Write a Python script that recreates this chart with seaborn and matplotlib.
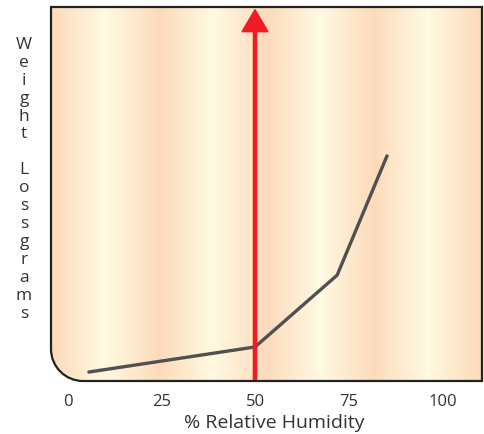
import numpy as np
import pandas as pd
import matplotlib
matplotlib.use("Agg")
import matplotlib.pyplot as plt
import seaborn as sns
from matplotlib.path import Path
from matplotlib.patches import PathPatch
from matplotlib.colors import LinearSegmentedColormap

# Data
humidity = [5.7, 50, 71.9, 85.2]
weight_loss = [2.4, 9.1, 28.3, 60.2]
xticks = [0, 25, 50, 75, 100]
marker_x = 50
ylabel_words = ["Weight", "Loss", "grams"]

sns.set_style("white")
plt.rcParams['font.family'] = ['Open Sans', 'DejaVu Sans']

W, H = 484, 434
fig = plt.figure(figsize=(W/100, H/100), dpi=100)
ax = fig.add_axes([51/W, 53/H, 431/W, 374/H])
ax.set_xlim(-4.4, 110.53)
ax.set_ylim(0, 100)

# rounded-corner frame in axes coords
rx, ry = 32/431, 32/374
k = 0.5523
verts = [(1, 1), (0, 1), (0, ry),
         (0, ry*(1-k)), (rx*(1-k), 0), (rx, 0),
         (1, 0), (1, 1)]
codes = [Path.MOVETO, Path.LINETO, Path.LINETO,
         Path.CURVE4, Path.CURVE4, Path.CURVE4,
         Path.LINETO, Path.CLOSEPOLY]
frame = PathPatch(Path(verts, codes), transform=ax.transAxes, facecolor='none',
                  edgecolor='#222222', lw=1.6, zorder=5, clip_on=False)
ax.add_patch(frame)

peach = (0.988, 0.858, 0.735)
light = (1.0, 0.98, 0.885)
stops = [(0.0, peach), (0.125, light), (0.25, peach), (0.375, light),
         (0.5, peach), (0.625, light), (0.75, peach), (0.875, light), (1.0, peach)]
cmap = LinearSegmentedColormap.from_list('stripes', stops)
grad = np.linspace(0, 1, 600).reshape(1, -1)
im = ax.imshow(grad, cmap=cmap, aspect='auto', extent=[0, 1, 0, 1],
               transform=ax.transAxes, zorder=0, interpolation='bilinear')
clip = PathPatch(Path(verts, codes), transform=ax.transAxes, facecolor='none', edgecolor='none')
ax.add_patch(clip)
im.set_clip_path(clip)

df = pd.DataFrame({'humidity': humidity, 'weight': weight_loss})
sns.lineplot(data=df, x='humidity', y='weight', ax=ax, color='#505050', lw=2.4, zorder=3)

ax.arrow(marker_x, 0, 0, 99.3, width=0.85, head_width=6.93, head_length=5.9,
         length_includes_head=True, color='#ee1c25', zorder=4)

for s in ax.spines.values():
    s.set_visible(False)
ax.set_xticks(xticks)
ax.set_xticklabels([str(t) for t in xticks], fontsize=12, color='#333333')
ax.tick_params(axis='x', length=0, pad=9)
ax.set_yticks([])
ax.set_xlabel('% Relative Humidity', fontsize=14, color='#333333')
ax.xaxis.set_label_coords(0.519, -0.088)
ax.set_ylabel('')

# stacked vertical label: blank line between "Weight" and "Loss"
lines = list(ylabel_words[0]) + [''] + list(ylabel_words[1]) + list(ylabel_words[2])
for i, ch in enumerate(lines):
    if not ch:
        continue
    yb = 49 + i * 17.9
    fig.text(24/W, 1 - yb/H, ch, ha='center', va='baseline', fontsize=12.5,
             color='#333333')

fig.savefig('out.png', dpi=100)
